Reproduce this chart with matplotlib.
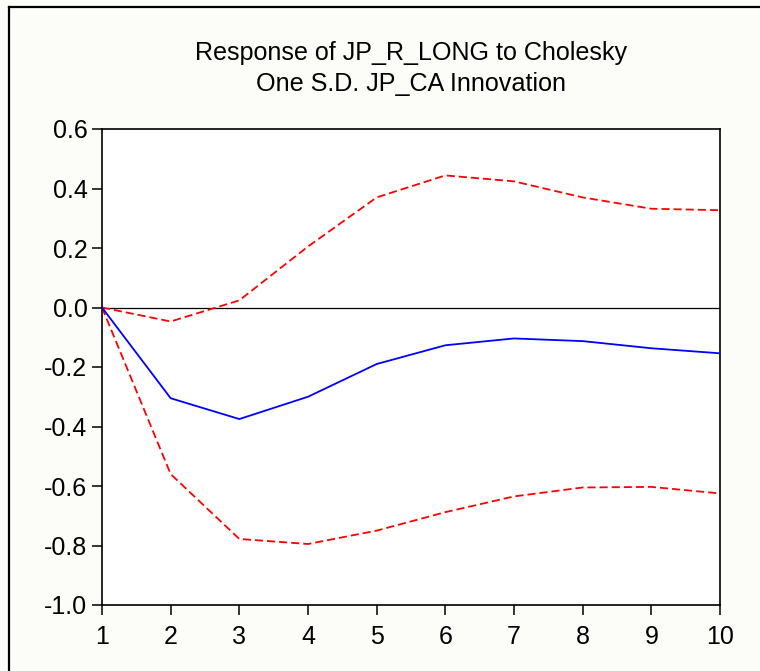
import matplotlib.pyplot as plt
from matplotlib.lines import Line2D

plt.rcParams['font.family'] = ['Liberation Sans', 'DejaVu Sans']

periods = [1, 2, 3, 4, 5, 6, 7, 8, 9, 10]
response = [0.0, -0.305, -0.375, -0.300, -0.190, -0.127, -0.104, -0.113, -0.137, -0.154]
upper_band = [0.0, -0.047, 0.024, 0.205, 0.370, 0.444, 0.424, 0.370, 0.332, 0.327]
lower_band = [0.0, -0.560, -0.778, -0.795, -0.750, -0.688, -0.635, -0.605, -0.603, -0.625]
yticks = [0.6, 0.4, 0.2, 0.0, -0.2, -0.4, -0.6, -0.8, -1.0]

W, H = 760, 671
fig = plt.figure(figsize=(W / 100, H / 100), dpi=100, facecolor='#fcfcf8')
ax = fig.add_axes([102 / W, 1 - 605 / H, (720 - 102) / W, (605 - 129) / H])
ax.set_facecolor('white')

ax.axhline(0, color='black', lw=0.9, zorder=1)
ax.plot(periods, response, color='#0000ff', lw=1.3, zorder=3)
for band in (upper_band, lower_band):
    ax.plot(periods, band, color='#ff0000', lw=1.3, dashes=(4.5, 2.2), zorder=2)

ax.set_xlim(1, 10)
ax.set_ylim(-1.0, 0.6)
ax.set_xticks(periods)
ax.set_yticks(yticks)
ax.set_yticklabels([f'{v:.1f}' for v in yticks])
ax.tick_params(direction='out', length=7.5, width=1.1, labelsize=18, colors='black')
ax.tick_params(axis='y', pad=3)
ax.tick_params(axis='x', pad=7)
for s in ax.spines.values():
    s.set_linewidth(1.2)
    s.set_color('black')

ax.set_title('Response of JP_R_LONG to Cholesky\nOne S.D. JP_CA Innovation',
             fontsize=18.1, linespacing=1.4, pad=27)

# outer frame of the graph window
fig.add_artist(Line2D([9 / W, 9 / W], [0, 1 - 7 / H], transform=fig.transFigure,
                      color='black', lw=1.6))
fig.add_artist(Line2D([9 / W, 1], [1 - 7 / H, 1 - 7 / H], transform=fig.transFigure,
                      color='black', lw=1.6))

fig.savefig('out.png', dpi=100, facecolor=fig.get_facecolor())
